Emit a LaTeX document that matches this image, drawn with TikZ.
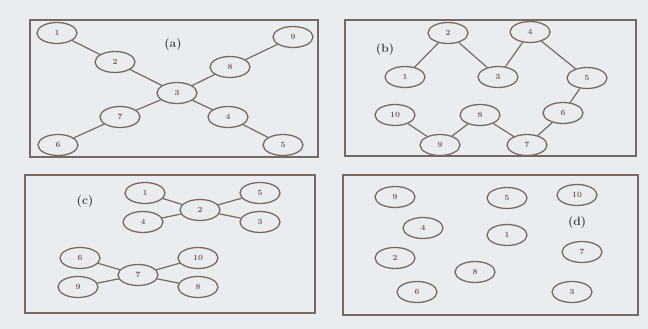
\documentclass[tikz,border=0pt]{standalone}
\usetikzlibrary{shapes.geometric}
\begin{document}
\begin{tikzpicture}[x=1pt,y=-1pt,
    nodo/.style={draw=linecolor,line width=1.3pt,ellipse,minimum width=40pt,minimum height=21pt,inner sep=0pt,font=\footnotesize\bfseries,text=textcolor},
    marco/.style={draw=linecolor,line width=1.4pt},
    arista/.style={linecolor,line width=1.2pt},
    etiqueta/.style={font=\large\bfseries,text=black!75}]
    % Definición de colores
    \definecolor{fondo}{RGB}{234,237,240}
    \definecolor{linecolor}{RGB}{120,106,96}
    \definecolor{textcolor}{RGB}{125,90,90}

    % Fondo
    \fill[fondo] (0,0) rectangle (648,329);

    % Marcos
    \draw[marco] (30,20) rectangle (318,157);
    \draw[marco] (345,20) rectangle (636,156);
    \draw[marco] (25,175) rectangle (315,313);
    \draw[marco] (343,175) rectangle (638,315);

    % Panel (a)
    \node[etiqueta] (la) at (173,45) {(a)};
    \node[nodo] (a1) at (57,33) {1};
    \node[nodo] (a2) at (115,62) {2};
    \node[nodo] (a3) at (177,93) {3};
    \node[nodo] (a4) at (228,117) {4};
    \node[nodo] (a5) at (283,145) {5};
    \node[nodo] (a6) at (58,145) {6};
    \node[nodo] (a7) at (120,117) {7};
    \node[nodo] (a8) at (230,67) {8};
    \node[nodo] (a9) at (293,37) {9};
    \foreach \u/\v in {1/2,2/3,3/4,4/5,9/8,8/3,3/7,7/6}
    {
        \draw[arista] (a\u) -- (a\v);
    }

    % Panel (b)
    \node[etiqueta] (lb) at (385,50) {(b)};
    \node[nodo] (b1) at (405,77) {1};
    \node[nodo] (b2) at (448,33) {2};
    \node[nodo] (b3) at (498,77) {3};
    \node[nodo] (b4) at (530,32) {4};
    \node[nodo] (b5) at (587,78) {5};
    \node[nodo] (b6) at (563,113) {6};
    \node[nodo] (b7) at (527,145) {7};
    \node[nodo] (b8) at (480,115) {8};
    \node[nodo] (b9) at (440,145) {9};
    \node[nodo] (b10) at (395,115) {10};
    \foreach \u/\v in {1/2,2/3,3/4,4/5,5/6,6/7,7/8,8/9,9/10}
    {
        \draw[arista] (b\u) -- (b\v);
    }

    % Panel (c)
    \node[etiqueta] (lc) at (85,202) {(c)};
    \node[nodo] (c1) at (145,193) {1};
    \node[nodo] (c2) at (200,210) {2};
    \node[nodo] (c3) at (260,222) {3};
    \node[nodo] (c4) at (143,222) {4};
    \node[nodo] (c5) at (260,193) {5};
    \node[nodo] (c6) at (80,258) {6};
    \node[nodo] (c7) at (138,275) {7};
    \node[nodo] (c8) at (198,287) {8};
    \node[nodo] (c9) at (78,287) {9};
    \node[nodo] (c10) at (198,258) {10};
    \foreach \u/\v in {1/2,4/2,5/2,3/2,6/7,9/7,10/7,8/7}
    {
        \draw[arista] (c\u) -- (c\v);
    }

    % Panel (d): nodos aislados
    \node[etiqueta] (ld) at (577,223) {(d)};
    \node[nodo] (d1) at (507,235) {1};
    \node[nodo] (d2) at (395,258) {2};
    \node[nodo] (d3) at (572,292) {3};
    \node[nodo] (d4) at (423,228) {4};
    \node[nodo] (d5) at (507,198) {5};
    \node[nodo] (d6) at (417,292) {6};
    \node[nodo] (d7) at (582,252) {7};
    \node[nodo] (d8) at (475,272) {8};
    \node[nodo] (d9) at (395,197) {9};
    \node[nodo] (d10) at (577,195) {10};

\end{tikzpicture}
\end{document}
